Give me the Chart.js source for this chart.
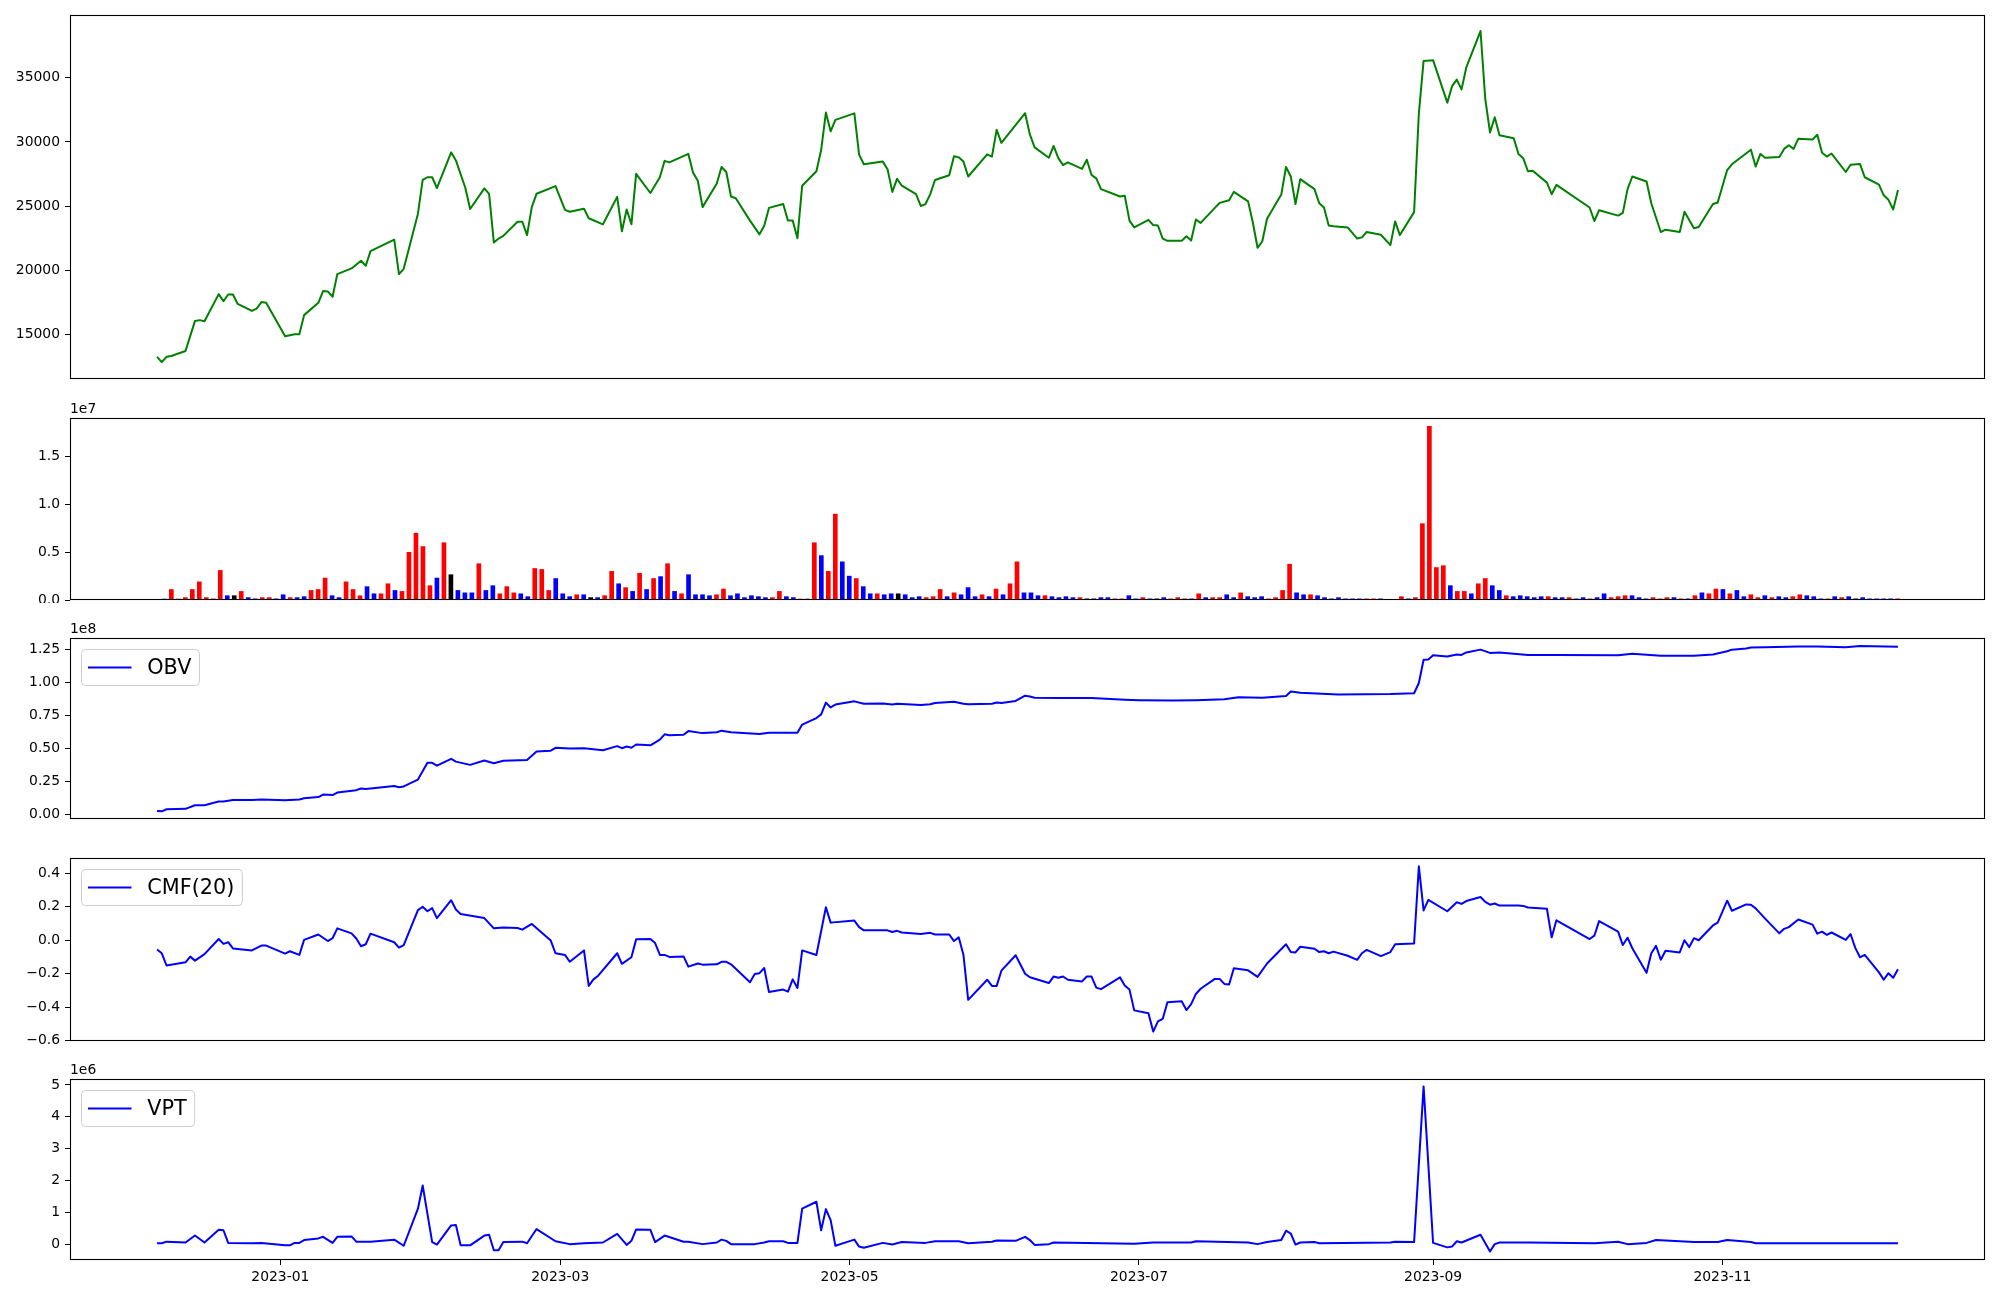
<!DOCTYPE html>
<html><head><meta charset="utf-8">
<script src="https://cdn.jsdelivr.net/npm/chart.js@4/dist/chart.umd.min.js"></script>
<style>
html,body{margin:0;padding:0;background:#fff;}
body{width:2000px;height:1300px;position:relative;overflow:hidden;}
canvas{position:absolute;left:0;}
</style></head><body>
<canvas id="c0"></canvas><canvas id="c1"></canvas><canvas id="c2"></canvas><canvas id="c3"></canvas><canvas id="c4"></canvas>
<script>
// x of line series = days from 2023-01-01
const xTickPos = [0, 59, 120, 181, 243, 304];
const xTickLabels = ['2023-01','2023-03','2023-05','2023-07','2023-09','2023-11'];

const pricePts = [[-26,13250],[-25,12830],[-24,13250],[-23,13310],[-20,13700],[-18,16050],[-17,16110],[-16,16020],[-13,18140],[-12,17580],[-11,18110],[-10,18110],[-9,17370],[-6,16830],[-5,17010],[-4,17520],[-3,17460],[1,14860],[3,15010],[4,15010],[5,16500],[8,17460],[9,18380],[10,18350],[11,17930],[12,19700],[15,20140],[17,20740],[18,20350],[19,21490],[24,22380],[25,19700],[26,20110],[29,24410],[30,27040],[31,27250],[32,27250],[33,26410],[36,29190],[37,28560],[39,26410],[40,24770],[43,26380],[44,25960],[45,22170],[46,22470],[47,22680],[50,23780],[51,23780],[52,22740],[53,24920],[54,25960],[58,26560],[60,24710],[61,24560],[64,24800],[65,24050],[68,23580],[71,25720],[72,23040],[73,24740],[74,23580],[75,27520],[78,26020],[80,27250],[81,28530],[82,28410],[86,29070],[87,27610],[88,26980],[89,24920],[92,26770],[93,28050],[94,27660],[95,25750],[96,25610],[99,23870],[101,22800],[102,23460],[103,24860],[106,25160],[107,23870],[108,23870],[109,22500],[110,26590],[113,27720],[114,29370],[115,32290],[116,30830],[117,31720],[121,32230],[122,29010],[123,28260],[127,28470],[128,27870],[129,26110],[130,27130],[131,26590],[134,25930],[135,25010],[136,25160],[137,25930],[138,27040],[141,27400],[142,28890],[143,28800],[144,28470],[145,27310],[149,29040],[150,28860],[151,30950],[152,29930],[157,32240],[158,30590],[159,29580],[162,28770],[163,29690],[164,28740],[165,28200],[166,28410],[169,27900],[170,28620],[171,27430],[172,27160],[173,26320],[177,25750],[178,25810],[179,23870],[180,23340],[183,23930],[184,23520],[185,23490],[186,22470],[187,22290],[190,22290],[191,22650],[192,22320],[193,23960],[194,23690],[198,25250],[200,25460],[201,26110],[204,25370],[205,23720],[206,21750],[207,22260],[208,24020],[211,25900],[212,28050],[213,27310],[214,25160],[215,27100],[218,26320],[219,25220],[220,24890],[221,23490],[222,23430],[225,23340],[227,22470],[228,22560],[229,22980],[232,22770],[234,21960],[235,23810],[236,22740],[239,24530],[240,32230],[241,36320],[243,36380],[246,33070],[247,34350],[248,34860],[249,34100],[250,35810],[253,38650],[254,33370],[255,30740],[256,31930],[257,30530],[260,30290],[261,29070],[262,28740],[263,27720],[264,27750],[267,26830],[268,25930],[269,26650],[276,24890],[277,23840],[278,24680],[282,24260],[283,24470],[284,26320],[285,27310],[288,26920],[289,25220],[291,22980],[292,23160],[295,22980],[296,24560],[298,23280],[299,23370],[302,25160],[303,25280],[305,27810],[306,28260],[310,29400],[311,28080],[312,29070],[313,28770],[316,28830],[317,29460],[318,29750],[319,29460],[320,30260],[323,30200],[324,30560],[325,29160],[326,28860],[327,29100],[330,27660],[331,28230],[333,28290],[334,27250],[337,26680],[338,25840],[339,25490],[340,24740],[341,26260]];

// volume per trading day (millions) and direction (1 up, -1 down, 0 flat)
const volM = [0.1,1.1,0.1,0.25,1.1,1.9,0.25,0.12,3.1,0.45,
 0.45,0.9,0.25,0.12,0.25,0.25,0.12,0.55,0.25,0.25,
 0.35,1.0,1.1,2.3,0.45,0.25,1.9,1.1,0.45,1.4,
 0.65,0.65,1.7,1.0,0.9,5.0,7.0,5.6,1.5,2.3,
 6.0,2.65,1.0,0.75,0.75,3.8,1.0,1.5,0.65,1.4,
 0.75,0.65,0.35,3.3,3.2,1.0,2.25,0.65,0.35,0.55,
 0.55,0.25,0.25,0.45,3.0,1.7,1.3,0.9,2.8,1.1,
 2.25,2.45,3.8,0.9,0.65,2.65,0.55,0.55,0.45,0.55,
 1.15,0.45,0.65,0.25,0.45,0.35,0.25,0.25,0.9,0.35,
 0.25,0.1,0.1,6.0,4.65,3.0,9.0,4.0,2.5,2.25,
 1.4,0.65,0.65,0.55,0.65,0.65,0.55,0.25,0.35,0.25,
 0.35,1.1,0.35,0.75,0.55,1.3,0.35,0.55,0.35,1.15,
 0.55,1.7,4.0,0.75,0.75,0.45,0.45,0.35,0.25,0.35,
 0.25,0.25,0.12,0.12,0.25,0.25,0.12,0.12,0.45,0.12,
 0.25,0.12,0.12,0.25,0.12,0.25,0.12,0.12,0.65,0.25,
 0.25,0.25,0.55,0.25,0.75,0.35,0.25,0.35,0.12,0.25,
 1.0,3.75,0.75,0.55,0.55,0.45,0.25,0.12,0.25,0.12,
 0.12,0.12,0.12,0.12,0.12,0,0,0.35,0.12,0.25,
 8.0,18.2,3.4,3.6,1.5,0.9,0.9,0.65,1.7,2.25,
 1.5,1.0,0.45,0.35,0.45,0.35,0.25,0.35,0.35,0.25,
 0.25,0.25,0.12,0.25,0.12,0.25,0.65,0.25,0.35,0.45,
 0.45,0.25,0.12,0.25,0.12,0.25,0.25,0.12,0.12,0.45,
 0.75,0.65,1.15,1.1,0.65,1.0,0.35,0.55,0.25,0.45,
 0.25,0.35,0.25,0.35,0.55,0.45,0.35,0.12,0.12,0.35,
 0.25,0.35,0.12,0.25,0.12,0.12,0.12,0.12,0.12];
const volDir = [-1,1,1,1,1,1,1,1,1,-1,
 0,1,-1,-1,1,1,-1,-1,1,-1,
 -1,1,1,1,-1,-1,1,1,1,-1,
 -1,1,1,-1,1,1,1,1,1,-1,
 1,0,-1,-1,-1,1,-1,-1,1,1,
 1,-1,-1,1,1,1,-1,-1,-1,1,
 -1,0,-1,1,1,-1,1,-1,1,-1,
 1,-1,1,-1,1,-1,-1,-1,-1,1,
 1,-1,-1,-1,-1,-1,-1,1,1,-1,
 -1,1,-1,1,-1,1,1,-1,-1,1,
 -1,-1,1,-1,-1,0,-1,-1,-1,1,
 1,1,-1,1,-1,-1,-1,1,-1,1,
 -1,1,1,-1,-1,-1,1,-1,-1,-1,
 -1,1,0,0,-1,-1,1,1,-1,-1,
 1,-1,0,-1,1,1,1,-1,1,-1,
 1,1,-1,-1,1,-1,-1,-1,1,1,
 1,1,-1,-1,1,-1,-1,-1,-1,-1,
 -1,-1,1,1,-1,0,0,1,-1,1,
 1,1,1,1,-1,1,1,-1,1,1,
 -1,-1,1,-1,-1,-1,-1,-1,1,-1,
 -1,1,-1,-1,1,-1,-1,1,1,1,
 -1,-1,-1,1,1,1,-1,1,-1,1,
 -1,1,1,-1,1,-1,-1,1,1,-1,
 1,-1,-1,1,1,-1,-1,-1,1,-1,
 1,-1,0,-1,-1,-1,-1,-1,1];

// OBV in units of 1e8
const obvPts = [[-26,0.0254],[-25,0.0223],[-24,0.0377],[-20,0.0408],[-18,0.0686],[-16,0.0686],[-13,0.0964],[-12,0.0964],[-10,0.1087],[-6,0.1087],[-4,0.1118],[1,0.1056],[4,0.1118],[5,0.121],[8,0.1303],[9,0.1488],[11,0.1458],[12,0.1643],[16,0.1828],[17,0.1952],[18,0.1921],[24,0.2137],[25,0.2044],[26,0.2106],[29,0.2631],[31,0.3896],[32,0.3896],[33,0.368],[36,0.4205],[37,0.3989],[40,0.3742],[43,0.408],[45,0.3866],[47,0.4051],[52,0.4113],[54,0.476],[57,0.4822],[58,0.5039],[61,0.4977],[64,0.5008],[68,0.4854],[71,0.5162],[72,0.5008],[73,0.5131],[74,0.5039],[75,0.5286],[78,0.5224],[80,0.5656],[81,0.6057],[82,0.5996],[85,0.6027],[86,0.6304],[89,0.615],[92,0.6212],[93,0.6335],[95,0.6212],[101,0.6088],[103,0.6181],[109,0.6181],[110,0.6798],[113,0.7292],[114,0.757],[115,0.8465],[116,0.8095],[117,0.8311],[121,0.8558],[123,0.8372],[127,0.8403],[129,0.8311],[130,0.8372],[135,0.828],[137,0.8342],[138,0.8434],[142,0.8527],[144,0.8372],[145,0.8342],[150,0.8372],[151,0.8465],[152,0.8434],[155,0.8589],[157,0.899],[158,0.8928],[159,0.8836],[164,0.8805],[167,0.8805],[171,0.8805],[178,0.8681],[181,0.865],[188,0.8619],[193,0.865],[199,0.8712],[202,0.8867],[207,0.8836],[212,0.8959],[213,0.9299],[215,0.9206],[223,0.9082],[234,0.9113],[239,0.9175],[240,0.9947],[241,1.1707],[242,1.1737],[243,1.2046],[246,1.1953],[248,1.2108],[249,1.2077],[250,1.2262],[253,1.2478],[255,1.2231],[257,1.2262],[263,1.2077],[269,1.2077],[282,1.2046],[285,1.217],[291,1.2015],[298,1.2015],[302,1.2108],[305,1.2355],[306,1.2478],[309,1.2571],[310,1.2633],[313,1.2663],[320,1.2725],[324,1.2725],[330,1.2663],[333,1.2756],[341,1.2694]];

const cmfPts = [[-26,-0.055],[-25,-0.077],[-24,-0.15],[-20,-0.131],[-19,-0.097],[-18,-0.121],[-16,-0.082],[-13,0.008],[-12,-0.021],[-11,-0.011],[-10,-0.048],[-6,-0.06],[-4,-0.031],[-3,-0.031],[1,-0.079],[2,-0.065],[4,-0.087],[5,0.003],[8,0.035],[10,-0.004],[11,0.013],[12,0.072],[15,0.042],[16,0.011],[17,-0.035],[18,-0.023],[19,0.04],[24,-0.011],[25,-0.043],[26,-0.028],[29,0.181],[30,0.201],[31,0.174],[32,0.193],[33,0.133],[36,0.24],[37,0.184],[38,0.157],[43,0.133],[45,0.072],[47,0.077],[50,0.074],[51,0.064],[53,0.098],[57,-0.001],[58,-0.077],[60,-0.087],[61,-0.128],[64,-0.06],[65,-0.272],[66,-0.233],[67,-0.211],[71,-0.077],[72,-0.14],[74,-0.101],[75,0.006],[78,0.008],[79,-0.016],[80,-0.087],[81,-0.087],[82,-0.099],[85,-0.096],[86,-0.157],[88,-0.138],[89,-0.145],[92,-0.143],[93,-0.128],[94,-0.128],[95,-0.143],[99,-0.25],[100,-0.201],[101,-0.196],[102,-0.165],[103,-0.308],[106,-0.294],[107,-0.306],[108,-0.233],[109,-0.284],[110,-0.06],[113,-0.087],[115,0.198],[116,0.106],[121,0.118],[122,0.079],[123,0.06],[128,0.06],[129,0.05],[130,0.057],[131,0.047],[135,0.038],[137,0.045],[138,0.035],[141,0.035],[142,-0.004],[143,0.018],[144,-0.087],[145,-0.355],[149,-0.235],[150,-0.272],[151,-0.272],[152,-0.181],[155,-0.089],[157,-0.199],[158,-0.22],[162,-0.255],[163,-0.216],[164,-0.223],[165,-0.216],[166,-0.235],[169,-0.245],[170,-0.216],[171,-0.216],[172,-0.282],[173,-0.291],[177,-0.221],[178,-0.269],[179,-0.294],[180,-0.418],[183,-0.435],[184,-0.545],[185,-0.484],[186,-0.469],[187,-0.369],[190,-0.364],[191,-0.416],[192,-0.381],[193,-0.32],[194,-0.289],[197,-0.23],[198,-0.23],[199,-0.26],[200,-0.264],[201,-0.167],[204,-0.179],[206,-0.218],[208,-0.138],[212,-0.023],[213,-0.07],[214,-0.072],[215,-0.038],[218,-0.05],[219,-0.07],[220,-0.065],[221,-0.077],[222,-0.067],[225,-0.092],[227,-0.116],[228,-0.077],[229,-0.057],[232,-0.094],[234,-0.07],[235,-0.023],[239,-0.018],[240,0.442],[241,0.179],[242,0.242],[246,0.174],[248,0.228],[249,0.218],[250,0.235],[253,0.259],[254,0.23],[255,0.213],[256,0.22],[257,0.208],[261,0.208],[262,0.206],[263,0.196],[267,0.189],[268,0.018],[269,0.12],[276,0.008],[277,0.028],[278,0.115],[282,0.052],[283,-0.028],[284,0.016],[285,-0.047],[288,-0.194],[289,-0.077],[290,-0.033],[291,-0.116],[292,-0.062],[295,-0.072],[296,0.001],[297,-0.04],[298,0.013],[299,0.001],[302,0.089],[303,0.106],[305,0.237],[306,0.177],[309,0.215],[310,0.213],[311,0.191],[313,0.13],[316,0.042],[317,0.069],[318,0.079],[320,0.125],[323,0.094],[324,0.04],[325,0.052],[326,0.033],[327,0.047],[330,0.003],[331,0.038],[332,-0.045],[333,-0.101],[334,-0.087],[337,-0.191],[338,-0.235],[339,-0.196],[340,-0.223],[341,-0.172]];

// VPT in units of 1e6
const vptPts = [[-26,0.031],[-25,0.031],[-24,0.082],[-20,0.056],[-18,0.274],[-16,0.056],[-13,0.453],[-12,0.44],[-11,0.044],[-6,0.031],[-4,0.044],[1,-0.033],[2,-0.033],[3,0.044],[4,0.044],[5,0.133],[8,0.184],[9,0.235],[11,0.044],[12,0.235],[15,0.248],[16,0.082],[19,0.082],[24,0.146],[26,-0.046],[29,1.117],[30,1.846],[32,0.069],[33,-0.008],[36,0.593],[37,0.606],[38,-0.033],[40,-0.033],[43,0.274],[44,0.3],[45,-0.187],[46,-0.187],[47,0.069],[51,0.082],[52,0.031],[54,0.478],[58,0.095],[61,0.005],[64,0.031],[68,0.056],[71,0.325],[73,-0.02],[74,0.108],[75,0.466],[78,0.453],[79,0.069],[81,0.274],[85,0.082],[86,0.082],[89,0.005],[92,0.056],[93,0.146],[94,0.108],[95,0.005],[100,0.005],[102,0.056],[103,0.095],[106,0.095],[107,0.044],[109,0.044],[110,1.117],[113,1.335],[114,0.44],[115,1.104],[116,0.759],[117,-0.046],[121,0.146],[122,-0.072],[123,-0.11],[127,0.044],[129,-0.008],[131,0.069],[136,0.044],[138,0.095],[143,0.095],[145,0.031],[150,0.082],[151,0.12],[155,0.108],[157,0.235],[158,0.133],[159,-0.02],[162,0.005],[163,0.056],[180,0.018],[184,0.056],[192,0.056],[193,0.095],[204,0.056],[206,0.005],[208,0.069],[211,0.133],[212,0.427],[213,0.338],[214,-0.008],[215,0.056],[218,0.069],[219,0.031],[234,0.056],[235,0.082],[239,0.069],[241,4.954],[243,0.044],[246,-0.097],[247,-0.072],[248,0.095],[249,0.056],[253,0.299],[255,-0.225],[256,0.005],[257,0.056],[263,0.056],[277,0.031],[282,0.082],[284,0.005],[288,0.044],[290,0.133],[298,0.069],[303,0.069],[305,0.133],[310,0.069],[311,0.031],[341,0.031]];

const priceTicks = [15000,20000,25000,30000,35000];
const priceTickLabels = ['15000','20000','25000','30000','35000'];
const volTicks = [0,0.5e7,1.0e7,1.5e7];
const volTickLabels = ['0.0','0.5','1.0','1.5'];
const obvTicks = [0,0.25e8,0.5e8,0.75e8,1.0e8,1.25e8];
const obvTickLabels = ['0.00','0.25','0.50','0.75','1.00','1.25'];
const cmfTicks = [-0.6,-0.4,-0.2,0,0.2,0.4];
const cmfTickLabels = ['\u22120.6','\u22120.4','\u22120.2','0.0','0.2','0.4'];
const vptTicks = [0,1e6,2e6,3e6,4e6,5e6];
const vptTickLabels = ['0','1','2','3','4','5'];

// ---------------- drawing ----------------
Chart.defaults.font.family = "'DejaVu Sans', sans-serif";
Chart.defaults.font.size = 13.9;
Chart.defaults.color = '#000';
Chart.defaults.animation = false;

const FONT = "'DejaVu Sans', sans-serif";
const X_MIN = -44.35, X_MAX = 359.35;

const framePlugin = { id:'frame', afterDraw(chart){
  const {ctx, chartArea:a} = chart; ctx.save();
  ctx.strokeStyle = '#000'; ctx.lineWidth = 1.1;
  ctx.strokeRect(Math.round(a.left)+0.5, Math.round(a.top)+0.5, Math.round(a.right-a.left)-1, Math.round(a.bottom-a.top)-1);
  ctx.restore(); } };

function offsetPlugin(txt){ return { id:'offs', afterDraw(chart){
  const {ctx, chartArea:a} = chart; ctx.save();
  ctx.font = '13.9px ' + FONT; ctx.fillStyle = '#000'; ctx.textAlign='left'; ctx.textBaseline='alphabetic';
  ctx.fillText(txt, a.left, a.top - 5); ctx.restore(); } }; }

function legendPlugin(txt){ return { id:'lg', afterDraw(chart){
  const {ctx, chartArea:a} = chart; ctx.save();
  const fs = 20.8; ctx.font = fs + 'px ' + FONT;
  const tw = ctx.measureText(txt).width;
  const x = Math.round(a.left + 11) + 0.5, y = Math.round(a.top + 11) + 0.5;
  const w = 65.7 + tw + 8, h = 36, r = 4;
  ctx.beginPath();
  ctx.moveTo(x+r,y); ctx.lineTo(x+w-r,y); ctx.arcTo(x+w,y,x+w,y+r,r);
  ctx.lineTo(x+w,y+h-r); ctx.arcTo(x+w,y+h,x+w-r,y+h,r);
  ctx.lineTo(x+r,y+h); ctx.arcTo(x,y+h,x,y+h-r,r);
  ctx.lineTo(x,y+r); ctx.arcTo(x,y,x+r,y,r); ctx.closePath();
  ctx.fillStyle = 'rgba(255,255,255,0.8)'; ctx.fill();
  ctx.strokeStyle = '#cccccc'; ctx.lineWidth = 1; ctx.stroke();
  ctx.strokeStyle = '#0000ff'; ctx.lineWidth = 2;
  ctx.beginPath(); ctx.moveTo(x+6.5, y+h/2); ctx.lineTo(x+50, y+h/2); ctx.stroke();
  ctx.fillStyle = '#000'; ctx.textAlign='left'; ctx.textBaseline='middle';
  ctx.fillText(txt, x+65.7, y+h/2+1);
  ctx.restore(); } }; }

function yScale(min, max, ticks, labels){
  return { type:'linear', position:'left', min, max,
    afterFit(s){ s.width = 70; s.paddingTop = 0; s.paddingBottom = 0; },
    afterBuildTicks(s){ s.ticks = ticks.map(v => ({value:v})); },
    ticks:{ callback:(v,i)=>labels[i], padding:5, autoSkip:false, color:'#000', font:{size:13.9, family:FONT} },
    grid:{ drawOnChartArea:false, drawTicks:true, tickLength:5, color:'#000', tickColor:'#000', lineWidth:1 },
    border:{ display:false } };
}
function xHidden(min, max){ return { type:'linear', min, max, display:false, offset:false, bounds:'data', grid:{offset:false} }; }
function xBottom(){
  return { type:'linear', position:'bottom', min:X_MIN, max:X_MAX, offset:false,
    afterFit(s){ s.height = 45; s.paddingLeft = 0; s.paddingRight = 0; },
    afterBuildTicks(s){ s.ticks = xTickPos.map(v => ({value:v})); },
    ticks:{ callback:(v,i)=>xTickLabels[i], autoSkip:false, maxRotation:0, minRotation:0, padding:4, color:'#000', font:{size:13.9, family:FONT} },
    grid:{ drawOnChartArea:false, drawTicks:true, tickLength:5, color:'#000', tickColor:'#000', lineWidth:1 },
    border:{ display:false } };
}

function setupCanvas(id, top, bottom, isLast){
  const pad = Math.min(24, top - 1);
  const c = document.getElementById(id);
  const h = (bottom - top) + pad + (isLast ? 45 : 3);
  c.width = 2000; c.height = h;
  c.style.width = '2000px'; c.style.height = h + 'px';
  c.style.top = (top - pad) + 'px';
  return { c, pad };
}

function makeChart(id, top, bottom, isLast, type, datasets, xs, ys, plugins){
  const { c, pad } = setupCanvas(id, top, bottom, isLast);
  return new Chart(c.getContext('2d'), {
    type, data:{ datasets },
    options:{ responsive:false, maintainAspectRatio:false, devicePixelRatio:1, animation:false,
      layout:{ padding:{ top:pad, bottom: isLast ? 0 : 3, left:0, right:15 } },
      plugins:{ legend:{display:false}, tooltip:{enabled:false} },
      scales:{ x: xs, y: ys } },
    plugins: [framePlugin].concat(plugins || [])
  });
}

const lineDs = (pts, k, color) => ({ data: pts.map(p => ({x:p[0], y:p[1]*k})), borderColor:color, borderWidth:2,
  pointRadius:0, tension:0, fill:false, borderJoinStyle:'round', borderCapStyle:'butt' });

// Price
makeChart('c0', 15, 379, false, 'line', [lineDs(pricePts, 1, '#008000')],
  xHidden(X_MIN, X_MAX), yScale(11520, 39900, priceTicks, priceTickLabels));

// Volume (bars on trading-day index)
const dirColor = d => d > 0 ? '#ff0000' : (d < 0 ? '#0000ff' : '#000000');
makeChart('c1', 418, 600, false, 'bar', [{
  data: volM.map((v,i) => ({x:i, y:v*1e6})),
  backgroundColor: volDir.map(dirColor), borderWidth:0, barThickness:4 }],
  xHidden(-13.5, 260.5), yScale(0, 1.907e7, volTicks, volTickLabels), [offsetPlugin('1e7')]);

// OBV
makeChart('c2', 638, 819, false, 'line', [lineDs(obvPts, 1e8, '#0000ff')],
  xHidden(X_MIN, X_MAX), yScale(-0.036e8, 1.336e8, obvTicks, obvTickLabels), [offsetPlugin('1e8'), legendPlugin('OBV')]);

// CMF
makeChart('c3', 858, 1041, false, 'line', [lineDs(cmfPts, 1, '#0000ff')],
  xHidden(X_MIN, X_MAX), yScale(-0.601, 0.492, cmfTicks, cmfTickLabels), [legendPlugin('CMF(20)')]);

// VPT
makeChart('c4', 1079, 1260, true, 'line', [lineDs(vptPts, 1e6, '#0000ff')],
  xBottom(), yScale(-0.493e6, 5.187e6, vptTicks, vptTickLabels), [offsetPlugin('1e6'), legendPlugin('VPT')]);
</script>
</body></html>
